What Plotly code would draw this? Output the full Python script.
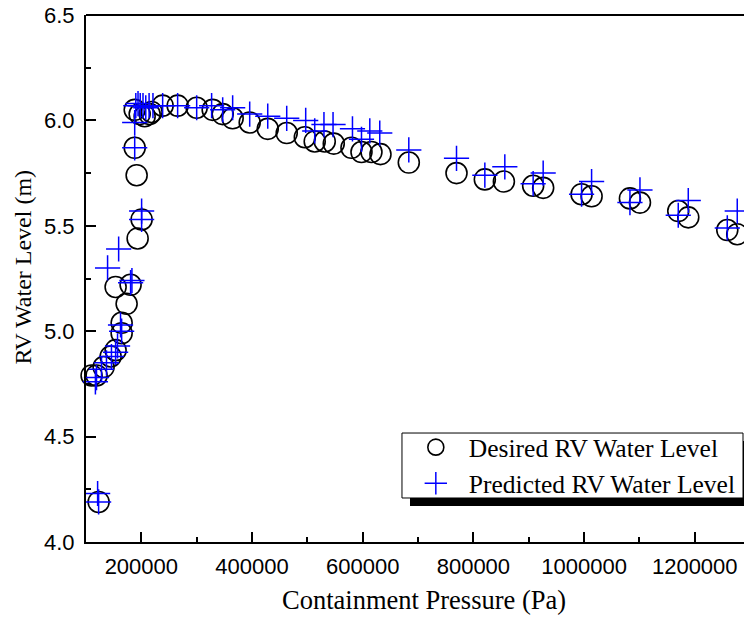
import plotly.graph_objects as go

desired_x = [122800, 110100, 119200, 131800, 144500, 153500, 164400, 164400, 173400, 153500,
             180600, 193300, 200500, 191500, 188000, 188000, 197000, 206000, 215000, 218500,
             238500, 265600, 300000, 328900, 347000, 365000, 395800, 428400, 462700, 495400,
             513300, 531400, 547700, 579700, 597800, 615800, 632100, 683300, 769500, 820700,
             855100, 908000, 926100, 995500, 1013600, 1082900, 1101000, 1170200, 1188300,
             1258800, 1276800]
desired_y = [4.19, 4.79, 4.79, 4.83, 4.88, 4.91, 4.99, 5.04, 5.13, 5.21,
             5.22, 5.44, 5.53, 5.74, 5.87, 6.05, 6.03, 6.02, 6.03, 6.04,
             6.07, 6.07, 6.06, 6.05, 6.03, 6.01, 5.99, 5.96, 5.94, 5.92,
             5.90, 5.90, 5.89, 5.87, 5.85, 5.85, 5.84, 5.80, 5.75, 5.72,
             5.71, 5.69, 5.68, 5.65, 5.64, 5.63, 5.61, 5.57, 5.54,
             5.48, 5.46]

predicted_x = [122800, 121000, 117000, 119000, 128000, 137000, 146000, 153500, 157000, 162400,
               164400, 139000, 159000, 180600, 183000, 200500, 200500, 188000, 188000, 190000,
               194000, 198000, 203000, 208000, 214000, 221000, 238500, 265600, 300000, 327000,
               347000, 365000, 395800, 428400, 462700, 497000, 513300, 530000, 546400, 581500,
               597800, 612800, 630800, 683300, 769500, 820700, 856800, 908000, 926100, 995500,
               1013600, 1082900, 1101000, 1170200, 1188300, 1258800, 1276800]
predicted_y = [4.19, 4.23, 4.76, 4.78, 4.82, 4.85, 4.88, 4.90, 4.93, 5.03,
               5.00, 5.30, 5.39, 5.23, 5.24, 5.53, 5.57, 5.87, 5.99, 6.07,
               6.08, 6.07, 6.07, 6.06, 6.07, 6.07, 6.07, 6.07, 6.06, 6.07,
               6.05, 6.06, 6.03, 6.02, 6.01, 6.00, 5.95, 5.98, 5.98, 5.96,
               5.91, 5.95, 5.94, 5.86, 5.82, 5.74, 5.78, 5.70, 5.75, 5.65,
               5.71, 5.61, 5.67, 5.55, 5.62, 5.49, 5.57]

series_names = ["Desired RV Water Level", "Predicted RV Water Level"]
x_title = "Containment Pressure (Pa)"
y_title = "RV Water Level (m)"

serif = "Liberation Serif, Times New Roman, serif"
sans = "Liberation Sans, Arial, sans-serif"

fig = go.Figure()
fig.add_trace(go.Scatter(
    x=desired_x, y=desired_y, mode="markers", name=series_names[0],
    marker=dict(symbol="circle-open", size=21, color="black", line=dict(width=1.6, color="black")),
    cliponaxis=False,
))
fig.add_trace(go.Scatter(
    x=predicted_x, y=predicted_y, mode="markers", name=series_names[1],
    marker=dict(symbol="cross-thin", size=18, color="#0000ff", line=dict(width=1.5, color="#0000ff")),
    cliponaxis=False,
))

# legend shadow and box
fig.add_shape(type="rect", xref="paper", yref="paper",
              x0=0.4924, x1=1.05, y0=0.0683, y1=0.1917,
              fillcolor="black", line=dict(width=0), layer="above")
fig.add_shape(type="rect", xref="paper", yref="paper",
              x0=0.4802, x1=0.9985, y0=0.0835, y1=0.2068,
              fillcolor="white", line=dict(width=1, color="black"), layer="above")
# top frame line
fig.add_shape(type="line", xref="paper", yref="paper", x0=0, x1=1, y0=1, y1=1,
              line=dict(color="black", width=2))

# axis titles
fig.add_annotation(text=x_title, xref="paper", yref="paper", x=0.513, y=-0.110,
                   xanchor="center", yanchor="middle", showarrow=False,
                   font=dict(family=serif, size=26.5, color="black"))
fig.add_annotation(text=y_title, xref="paper", yref="paper", x=-0.0957, y=0.521,
                   xanchor="center", yanchor="middle", showarrow=False, textangle=-90,
                   font=dict(family=serif, size=24, color="black"))

fig.update_layout(
    width=744, height=622,
    margin=dict(l=86, r=0, t=15, b=80),
    paper_bgcolor="white", plot_bgcolor="white",
    showlegend=True,
    legend=dict(
        x=0.4815, y=0.145, xanchor="left", yanchor="middle",
        bgcolor="rgba(0,0,0,0)", borderwidth=0,
        font=dict(family=serif, size=25.5, color="black"),
        tracegroupgap=0, itemsizing="trace", itemwidth=56,
    ),
    xaxis=dict(
        range=[100000, 1289000],
        tick0=0, dtick=200000, tickformat="d",
        ticks="inside", ticklen=10, tickwidth=2, tickcolor="black",
        minor=dict(ticks="inside", ticklen=5, tickwidth=2, tickcolor="black", dtick=100000),
        showline=True, linecolor="black", linewidth=2,
        showgrid=False, zeroline=False,
        ticklabelstandoff=4,
        tickfont=dict(family=sans, size=22, color="black"),
    ),
    yaxis=dict(
        range=[4.0, 6.5],
        tick0=4.0, dtick=0.5, tickformat=".1f",
        ticks="inside", ticklen=10, tickwidth=2, tickcolor="black",
        minor=dict(ticks="inside", ticklen=5, tickwidth=2, tickcolor="black", dtick=0.25),
        showline=True, linecolor="black", linewidth=2,
        showgrid=False, zeroline=False,
        ticklabelstandoff=5,
        tickfont=dict(family=sans, size=22, color="black"),
    ),
)

fig.write_html("out.html")
